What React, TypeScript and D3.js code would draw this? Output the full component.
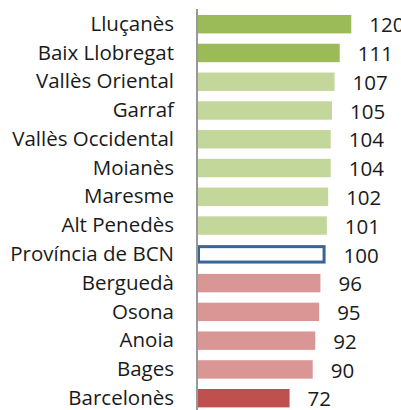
import React from "react";
import * as d3 from "d3";

const categories = [
  "Lluçanès",
  "Baix Llobregat",
  "Vallès Oriental",
  "Garraf",
  "Vallès Occidental",
  "Moianès",
  "Maresme",
  "Alt Penedès",
  "Província de BCN",
  "Berguedà",
  "Osona",
  "Anoia",
  "Bages",
  "Barcelonès",
];
const values = [120, 111, 107, 105, 104, 104, 102, 101, 100, 96, 95, 92, 90, 72];
const groups = [
  "high", "high", "above", "above", "above", "above", "above", "above",
  "ref", "below", "below", "below", "below", "low",
];

const fills: Record<string, string> = {
  high: "#9BBB59",
  above: "#C4D79B",
  ref: "#FFFFFF",
  below: "#DA9694",
  low: "#C0504D",
};

const W = 401;
const H = 410;
const FONT = "'Open Sans', 'Noto Sans', sans-serif";

export default function App() {
  const axisX = 197;
  const x = d3.scaleLinear().domain([0, 140]).range([axisX, axisX + 180]);
  const y = d3
    .scaleBand<string>()
    .domain(categories)
    .range([9.8, 9.8 + 14 * 28.77])
    .paddingInner(0.36)
    .paddingOuter(0.18);
  const bw = y.bandwidth();

  return (
    <svg
      width={W}
      height={H}
      style={{ position: "absolute", left: 0, top: 0, background: "#fff" }}
      fontFamily={FONT}
    >
      {categories.map((c, i) => {
        const y0 = y(c)!;
        const g = groups[i];
        const isRef = g === "ref";
        return (
          <g key={c}>
            {isRef ? (
              <rect
                x={x(0) + 1.5}
                y={y0 + 1.5}
                width={x(values[i]) - x(0) - 3}
                height={bw - 3}
                fill="#fff"
                stroke="#3A6498"
                strokeWidth={3}
              />
            ) : (
              <rect
                x={x(0)}
                y={y0}
                width={x(values[i]) - x(0)}
                height={bw}
                fill={fills[g]}
              />
            )}
            <text
              x={174}
              y={y0 + bw / 2 - 0.5}
              dy="0.35em"
              textAnchor="end"
              fontSize={20.5}
              fill="#1a1a1a"
            >
              {c}
            </text>
            <text
              x={x(values[i]) + 18}
              y={y0 + bw / 2 + 1}
              dy="0.35em"
              textAnchor="start"
              fontSize={20.5}
              fill="#1a1a1a"
            >
              {values[i]}
            </text>
          </g>
        );
      })}
      <line x1={axisX} x2={axisX} y1={9} y2={H} stroke="#999" strokeWidth={2} />
    </svg>
  );
}
